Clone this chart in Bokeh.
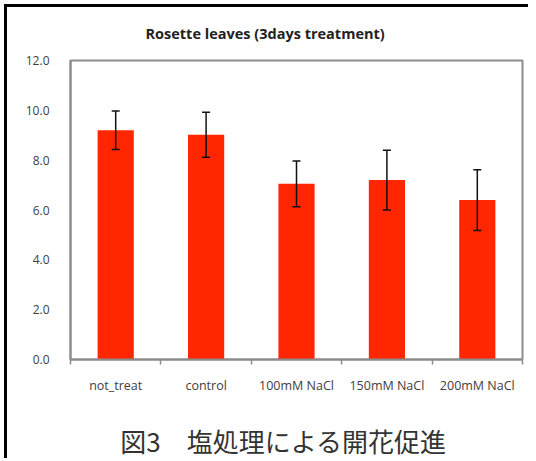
from bokeh.plotting import figure
from bokeh.models import (ColumnDataSource, Range1d, FixedTicker, NumeralTickFormatter,
                          Whisker, TeeHead, Title, LinearAxis)
from bokeh.embed import file_html
from bokeh.resources import INLINE

title_text = "Rosette leaves (3days treatment)"
caption_text = "図3\u3000塩処理による開花促進\u3000"
categories = ["not_treat", "control", "100mM NaCl", "150mM NaCl", "200mM NaCl"]
means = [9.2, 9.02, 7.05, 7.2, 6.4]
errors = [0.77, 0.9, 0.92, 1.2, 1.22]
y_ticks = [0, 2, 4, 6, 8, 10, 12]
y_max = 12

positions = [i + 0.5 for i in range(len(categories))]
boundaries = list(range(len(categories) + 1))
upper = [m + e for m, e in zip(means, errors)]
lower = [m - e for m, e in zip(means, errors)]

src = ColumnDataSource(dict(x=positions, top=means, upper=upper, lower=lower, cat=categories))

GRAY = "#8c8c8c"
TXT = "#404040"
FONT = "Open Sans"

p = figure(width=524, height=454, output_backend="svg", toolbar_location=None,
           x_range=Range1d(0, len(categories)), y_range=Range1d(0, y_max),
           min_border_left=63, min_border_right=9, min_border_top=53, min_border_bottom=102,
           x_axis_type=None, y_axis_type=None)
p.xgrid.visible = False
p.ygrid.visible = False
p.outline_line_color = GRAY
p.outline_line_width = 2
p.background_fill_color = "white"
p.border_fill_color = "white"
p.styles = {"margin-left": "4px", "margin-top": "4px",
            "border-left": "3px solid black", "border-top": "3px solid black"}

xaxis = LinearAxis(ticker=FixedTicker(ticks=positions, minor_ticks=boundaries),
                   major_label_overrides={pos: c for pos, c in zip(positions, categories)})
xaxis.major_tick_line_color = None
xaxis.major_tick_out = 5
xaxis.major_tick_in = 0
xaxis.minor_tick_out = 5
xaxis.minor_tick_in = 0
xaxis.minor_tick_line_color = GRAY
xaxis.minor_tick_line_width = 1.5
xaxis.axis_line_color = GRAY
xaxis.axis_line_width = 2
xaxis.major_label_standoff = 12
xaxis.major_label_text_font = FONT
xaxis.major_label_text_font_size = "12.5px"
xaxis.major_label_text_color = TXT
xaxis.axis_label = caption_text
xaxis.axis_label_standoff = 25
xaxis.axis_label_text_font = "Noto Sans CJK JP"
xaxis.axis_label_text_font_style = "normal"
xaxis.axis_label_text_font_size = "26px"
xaxis.axis_label_text_color = "#333333"
p.add_layout(xaxis, "below")

yaxis = LinearAxis(ticker=FixedTicker(ticks=y_ticks), formatter=NumeralTickFormatter(format="0.0"))
yaxis.major_tick_out = 0
yaxis.major_tick_in = 0
yaxis.minor_tick_line_color = None
yaxis.axis_line_color = GRAY
yaxis.axis_line_width = 2
yaxis.major_label_standoff = 21
yaxis.major_label_text_font = FONT
yaxis.major_label_text_font_size = "12px"
yaxis.major_label_text_color = TXT
p.add_layout(yaxis, "left")

p.vbar(x="x", top="top", width=0.4, source=src, fill_color="#ff2600", line_color=None)

wh = Whisker(base="x", upper="upper", lower="lower", source=src,
             line_color="#111111", line_width=1.5, level="overlay",
             upper_head=TeeHead(size=8, line_color="#111111", line_width=1.5),
             lower_head=TeeHead(size=8, line_color="#111111", line_width=1.5))
p.add_layout(wh)

p.add_layout(Title(text=title_text, align="left", offset=75, standoff=31, vertical_align="top",
                   text_font=FONT, text_font_style="bold", text_font_size="14.5px",
                   text_color="#222222"), "above")

open("out.html", "w").write(file_html(p, INLINE))
